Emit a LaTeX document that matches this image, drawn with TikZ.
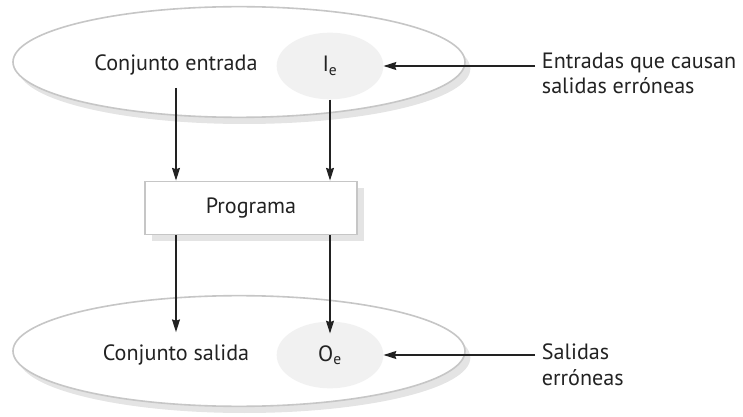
\documentclass[tikz,border=0pt]{standalone}
\usepackage{fontspec}
\setmainfont{PT Sans}
\usetikzlibrary{arrows.meta, shapes.geometric, shadows}

\definecolor{bordegris}{HTML}{C6C6C6}
\definecolor{sombra}{HTML}{E4E4E4}
\definecolor{relleno}{HTML}{F1F1F1}
\definecolor{tinta}{HTML}{222222}

\begin{document}
\begin{tikzpicture}[x=0.75pt, y=-0.75pt, font=\fontsize{16.6}{19}\selectfont, text=tinta,
  conjunto/.style={ellipse, draw=bordegris, line width=1.2pt, fill=white, inner sep=0pt,
    minimum width=339pt, minimum height=83pt,
    drop shadow={shadow xshift=4pt, shadow yshift=-5pt, fill=sombra, opacity=1}},
  subconj/.style={ellipse, fill=relleno, inner sep=0pt, minimum width=80pt, minimum height=50pt},
  caja/.style={rectangle, draw=bordegris, line width=1.2pt, fill=white,
    minimum width=159pt, minimum height=40pt,
    drop shadow={shadow xshift=5pt, shadow yshift=-5pt, fill=sombra, opacity=1}},
  nota/.style={align=left, anchor=north west, inner ysep=2pt, inner xsep=5pt},
  flecha/.style={draw=tinta, line width=0.8pt, -{Stealth[length=9.5pt, width=6pt, inset=1pt]}}]
  \useasboundingbox (0,0) rectangle (743,417);
  % 集合
  \node[conjunto] (entrada) at (239,62) {};
  \node[conjunto] (salida) at (239,351) {};
  \node[subconj] (ie) at (330,66) {I\textsubscript{e}};
  \node[subconj] (oe) at (330,355) {O\textsubscript{e}};
  \node (cent) at (176,65) {Conjunto entrada};
  \node (csal) at (176,355) {Conjunto salida};
  \node[caja] (prog) at (251,208) {Programa};
  % 说明
  \node[nota] (nent) at (535,50) {Entradas que causan\\salidas erróneas};
  \node[nota] (nsal) at (535,341) {Salidas\\erróneas};
  % 箭头
  \draw[flecha] ([yshift=-6pt]cent.south) -- (cent.south |- prog.north);
  \draw[flecha] (ie.south) -- (ie.south |- prog.north);
  \draw[flecha] (prog.south -| csal.north) -- ([yshift=6pt]csal.north);
  \draw[flecha] (prog.south -| oe.north) -- ([yshift=-9pt]oe.north);
  \draw[flecha] (nent.west |- ie.east) -- (ie.east);
  \draw[flecha] (nsal.west |- oe.east) -- (oe.east);
\end{tikzpicture}
\end{document}
